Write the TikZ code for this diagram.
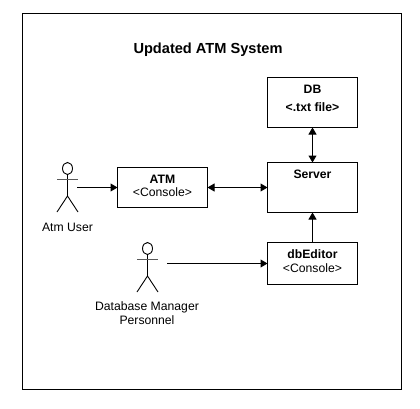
\documentclass[tikz,border=0pt]{standalone}
\usepackage{fontspec}
\setmainfont{Liberation Sans}
\usetikzlibrary{arrows.meta,positioning}
\tikzset{
	block/.style={draw=black, line width=1pt, fill=white, minimum width=90pt, outer sep=0pt, anchor=north west, inner sep=0pt},
	link/.style={line width=1pt, -{Triangle[length=7pt,width=8pt]}},
	linkboth/.style={line width=1pt, {Triangle[length=7pt,width=8pt]}-{Triangle[length=7pt,width=8pt]}},
	caption/.style={align=center, font=\fontsize{12.2}{14}\selectfont},
	heading/.style={font=\bfseries\fontsize{12.2}{14}\selectfont}
}
% stick figure, head centre at (#1,#2)
\def\stickman(#1,#2){
	\draw[line width=0.9pt] (#1, #2) ellipse (5pt and 6pt);
	\draw[line width=0.9pt] (#1, #2+6) -- (#1, #2+27.5);
	\draw[line width=0.9pt, color=black!65] (#1-10.5, #2+10.5) -- (#1+10.5, #2+10.5);
	\draw[line width=0.9pt] (#1-10.5, #2+43.5) -- (#1, #2+27.5) -- (#1+10.5, #2+43.5);
}

\begin{document}
\begin{tikzpicture}[x=1pt, y=-1pt]
		\useasboundingbox (0, 0) rectangle (420, 409);
		
		\draw[line width=1pt] (22.5, 13.5) rectangle (401.5, 389.5);
		\node[font=\bfseries\fontsize{14.6}{17}\selectfont] (title) at (208, 50) {Updated ATM System};
		
		%%%%% boxes %%%%%
		\node[block, minimum height=50pt] (db) at (267.5, 77.5) {};
		\node[block, minimum height=50pt] (server) at (267.5, 162.5) {};
		\node[block, minimum height=42pt] (dbeditor) at (267.5, 242.5) {};
		\node[block, minimum height=40pt] (atm) at (117.5, 167.5) {};
		
		\node[heading] (dbname) at (312.5, 89) {DB};
		\node[heading] (dbfile) at (312.5, 107) {<.txt file>};
		\node[heading] (servername) at (312.5, 174) {Server};
		\node[heading] (editorname) at (312.5, 254.5) {dbEditor};
		\node[caption] (editorkind) at (312.5, 268) {<Console>};
		\node[heading] (atmname) at (162.5, 179) {ATM};
		\node[caption] (atmkind) at (162.5, 192.5) {<Console>};
		
		%%%%% actors %%%%%
		\stickman(67.5, 168.5)
		\stickman(147.5, 248.5)
		\node[caption] (user) at (67.5, 227) {Atm User};
		\node[caption] (manager) at (147, 313.5) {Database Manager\\Personnel};
		\coordinate (userhand) at (77, 187.5);
		\coordinate (managerhand) at (167, 263.5);
		
		%%%%% connectors %%%%%
		\draw[link] (userhand) -- (atm.west);
		\draw[link] (managerhand) -- (managerhand -| dbeditor.west);
		\draw[linkboth] (atm.east) -- (atm.east -| server.west);
		\draw[linkboth] (db.south) -- (server.north);
		\draw[link] (dbeditor.north) -- (server.south);
\end{tikzpicture}
\end{document}
